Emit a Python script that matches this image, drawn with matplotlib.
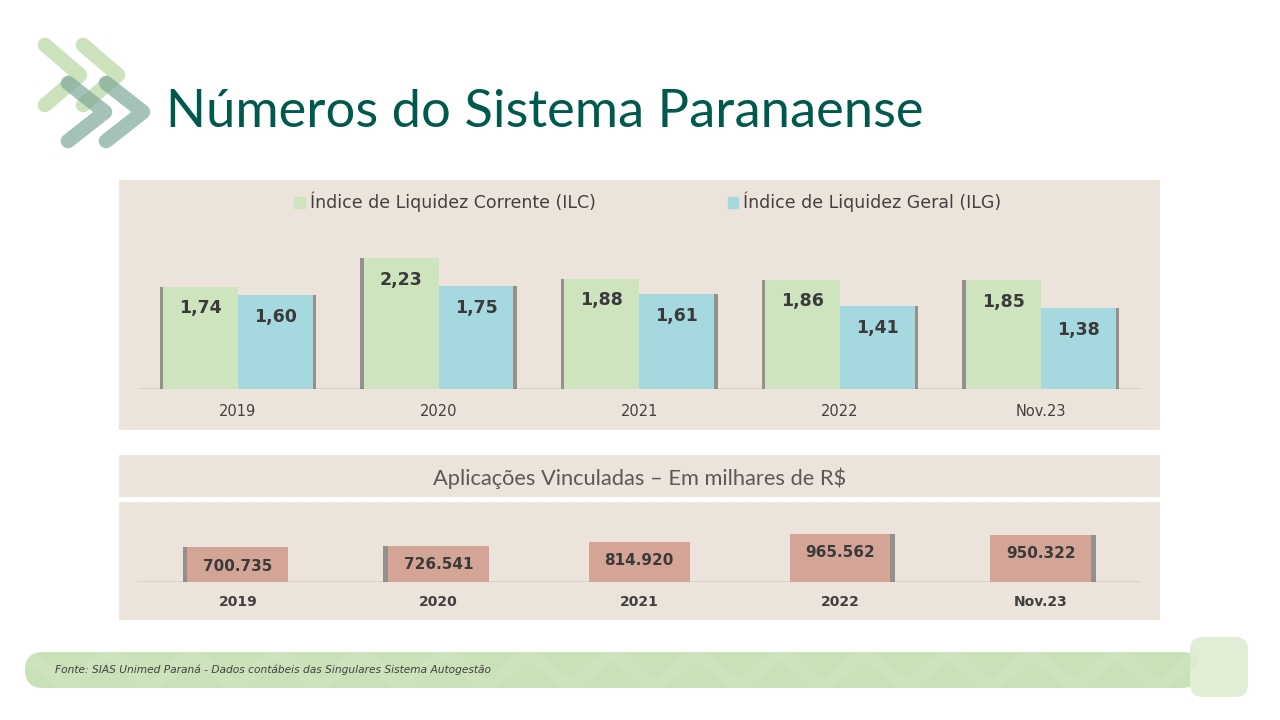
import matplotlib
matplotlib.use("Agg")
import matplotlib.pyplot as plt
import matplotlib.patheffects as pe
from matplotlib.patches import Rectangle, FancyBboxPatch, Patch
import numpy as np

# ---------------- data ----------------
categories = ["2019", "2020", "2021", "2022", "Nov.23"]
ilc = [1.74, 2.23, 1.88, 1.86, 1.85]
ilg = [1.60, 1.75, 1.61, 1.41, 1.38]
aplicacoes = [700735, 726541, 814920, 965562, 950322]
legend_labels = ["Índice de Liquidez Corrente (ILC)", "Índice de Liquidez Geral (ILG)"]
title_text = "Números do Sistema Paranaense"
subtitle_text = "Aplicações Vinculadas – Em milhares de R$"
source_text = "Fonte: SIAS Unimed Paraná - Dados contábeis das Singulares Sistema Autogestão"

def fmt_dec(v):
    return f"{v:.2f}".replace(".", ",")

def fmt_int(v):
    return f"{v:,}".replace(",", ".")

# ---------------- colours ----------------
PANEL = "#ECE4DA"
GREEN = "#CDE4BE"
BLUE = "#A6D8E0"
ROSE = "#D4A596"
TXT = "#404040"
TITLE = "#00594D"

W, H = 1280, 720
fig = plt.figure(figsize=(12.8, 7.2), dpi=100)
fig.patch.set_facecolor("white")

bg = fig.add_axes([0, 0, 1, 1])
bg.set_xlim(0, W)
bg.set_ylim(H, 0)
bg.axis("off")

def fx(px):
    return px / W

def fy(py):
    return 1 - py / H

# panels
bg.add_patch(Rectangle((119, 180), 1041, 250, color=PANEL, lw=0))
bg.add_patch(Rectangle((119, 455), 1041, 42, color=PANEL, lw=0))
bg.add_patch(Rectangle((119, 502), 1041, 118, color=PANEL, lw=0))

# logo chevrons
def chevron(x0, y0, dx, dy, color, alpha):
    bg.plot([x0, x0 + dx, x0], [y0, y0 + dy, y0 + 2 * dy], color=color, lw=10.5,
            solid_capstyle="round", solid_joinstyle="round", alpha=alpha)

chevron(45, 45, 35, 30, "#B5D6A0", 0.7)
chevron(83, 45, 35, 30, "#B5D6A0", 0.7)
chevron(68, 83, 37, 29, "#7FA898", 0.7)
chevron(106, 83, 37, 29, "#7FA898", 0.7)

# title
renderer = fig.canvas.get_renderer()

def fit(t, width_px):
    bb = t.get_window_extent(renderer)
    t.set_fontsize(t.get_fontsize() * width_px / bb.width)

t_title = bg.text(166, 127, title_text, fontsize=44, color=TITLE,
                  family=["Lato", "DejaVu Sans"], va="baseline", ha="left")
fit(t_title, 758)

# ---------------- top chart ----------------
x = np.arange(len(categories))
px_per_unit = 58.7
ax1 = fig.add_axes([fx(137.6), fy(389), fx(1141) - fx(137.6), fy(230) - fy(389)])
ax1.set_facecolor("none")
bw = 0.373
b1 = ax1.bar(x - bw / 2, ilc, bw, color=GREEN, zorder=3)
b2 = ax1.bar(x + bw / 2, ilg, bw, color=BLUE, zorder=3)
for r in b1:
    r.set_path_effects([pe.SimplePatchShadow(offset=(-2.5, 0), shadow_rgbFace="#5a5a5a", alpha=0.6), pe.Normal()])
for r in b2:
    r.set_path_effects([pe.SimplePatchShadow(offset=(2.5, 0), shadow_rgbFace="#5a5a5a", alpha=0.6), pe.Normal()])
ax1.set_xlim(-0.5, len(categories) - 0.5)
ax1.set_ylim(0, 159 / px_per_unit)
for s in ax1.spines.values():
    s.set_visible(False)
ax1.axhline(0, color="#D6D0C8", lw=1.2, zorder=2)
ax1.set_yticks([])
ax1.set_xticks(x, categories)
ax1.tick_params(axis="x", length=0, pad=11, labelsize=10.5, labelcolor=TXT)
ax1.bar_label(b1, labels=[fmt_dec(v) for v in ilc], padding=-22, fontsize=12.5,
              fontweight="bold", color="#3A3A3A", zorder=4)
ax1.bar_label(b2, labels=[fmt_dec(v) for v in ilg], padding=-22, fontsize=12.5,
              fontweight="bold", color="#3A3A3A", zorder=4)
handles = [Patch(color=GREEN), Patch(color=BLUE)]
leg = ax1.legend(handles, legend_labels, ncol=2, loc="center",
                 bbox_to_anchor=(fx(648), fy(202)), bbox_transform=fig.transFigure,
                 frameon=False, fontsize=12.5, handlelength=0.6, handleheight=0.6,
                 handletextpad=0.3, columnspacing=7.6, labelcolor=TXT)

# ---------------- bottom chart ----------------
t_sub = bg.text(640, 478, subtitle_text, fontsize=16, color="#595959",
                family=["Lato", "DejaVu Sans"], va="center", ha="center")
fit(t_sub, 416)

ax2 = fig.add_axes([fx(137.6), fy(582), fx(1141) - fx(137.6), fy(520) - fy(582)])
ax2.set_facecolor("none")
b3 = ax2.bar(x, aplicacoes, 0.503, color=ROSE, zorder=3)
shadow_dx = [-3.5, -3.5, 0, 3.5, 3.5]
for r, d in zip(b3, shadow_dx):
    if d != 0:
        r.set_path_effects([pe.SimplePatchShadow(offset=(d, 0), shadow_rgbFace="#5a5a5a", alpha=0.6), pe.Normal()])
ax2.set_xlim(-0.5, len(categories) - 0.5)
ax2.set_ylim(0, 62 * 20150)
for s in ax2.spines.values():
    s.set_visible(False)
ax2.axhline(0, color="#D6D0C8", lw=1.2, zorder=2)
ax2.set_yticks([])
ax2.set_xticks(x, categories)
ax2.tick_params(axis="x", length=0, pad=9, labelsize=10, labelcolor=TXT)
for lab in ax2.get_xticklabels():
    lab.set_fontweight("bold")
ax2.bar_label(b3, labels=[fmt_int(v) for v in aplicacoes], padding=-19, fontsize=11,
              fontweight="bold", color="#3A3A3A", zorder=4)

# ---------------- footer ----------------
foot = FancyBboxPatch((25, 652), 1175, 36, boxstyle="round,pad=0,rounding_size=18",
                      fc="#C9E1B8", ec="none", mutation_aspect=1)
bg.add_patch(foot)
xs = np.arange(25, 1220, 42)
ys = np.where(np.arange(len(xs)) % 2 == 0, 652, 688)
zz, = bg.plot(xs, ys, color="#D3E6C5", lw=9, alpha=0.45)
zz.set_clip_path(foot)
bg.add_patch(FancyBboxPatch((1203, 650), 32, 34, boxstyle="round,pad=13",
                            fc="#E1EED5", ec="none"))
t_src = bg.text(55, 670, source_text, fontsize=7.5, color=TXT, style="italic",
                family=["Liberation Sans Narrow", "DejaVu Sans"], va="center", ha="left")
fit(t_src, 435)

fig.savefig("out.png", dpi=100, facecolor="white")
